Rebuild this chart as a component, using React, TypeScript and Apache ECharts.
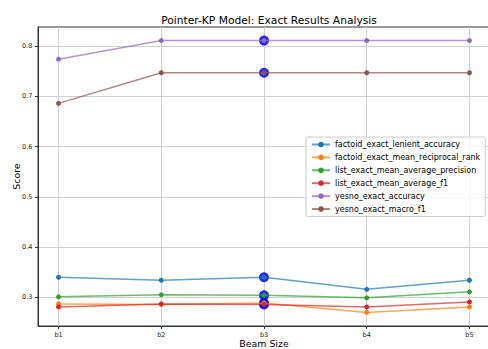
import React, { useEffect, useRef } from "react";
import * as echarts from "echarts";

const beamSizes = ["b1", "b2", "b3", "b4", "b5"];
const seriesNames = [
  "factoid_exact_lenient_accuracy",
  "factoid_exact_mean_reciprocal_rank",
  "list_exact_mean_average_precision",
  "list_exact_mean_average_f1",
  "yesno_exact_accuracy",
  "yesno_exact_macro_f1",
];
const factoidLenientAccuracy = [0.340, 0.334, 0.340, 0.316, 0.334];
const factoidMeanReciprocalRank = [0.287, 0.286, 0.289, 0.270, 0.281];
const listMeanAveragePrecision = [0.301, 0.305, 0.304, 0.299, 0.311];
const listMeanAverageF1 = [0.281, 0.287, 0.286, 0.281, 0.291];
const yesnoAccuracy = [0.774, 0.811, 0.811, 0.811, 0.811];
const yesnoMacroF1 = [0.686, 0.747, 0.747, 0.747, 0.747];
const bestBeamIndex = 2;
const yTicks = [0.3, 0.4, 0.5, 0.6, 0.7, 0.8];
const colors = ["#1f77b4", "#ff7f0e", "#2ca02c", "#d62728", "#9467bd", "#8c564b"];

const allValues = [
  factoidLenientAccuracy,
  factoidMeanReciprocalRank,
  listMeanAveragePrecision,
  listMeanAverageF1,
  yesnoAccuracy,
  yesnoMacroF1,
];

const FONT = "DejaVu Sans";

export default function App() {
  const ref = useRef<HTMLDivElement>(null);
  useEffect(() => {
    if (!ref.current) return;
    const chart = echarts.init(ref.current, undefined, { renderer: "svg" });
    const xIdx = beamSizes.map((_, i) => i);
    const lineSeries = allValues.map((vals, s) => ({
      name: seriesNames[s],
      type: "line",
      data: vals.map((v, i) => [i, v]),
      symbol: "circle",
      symbolSize: 5,
      z: 3,
      itemStyle: { color: colors[s] },
      lineStyle: { color: colors[s], width: 1.5, opacity: 0.7 },
    }));
    const highlight = {
      name: "best",
      type: "scatter",
      data: allValues.map((vals) => [bestBeamIndex, vals[bestBeamIndex]]),
      symbol: "circle",
      symbolSize: 10,
      z: 2,
      itemStyle: { color: "#0000ff", opacity: 0.85 },
    };
    chart.setOption({
      animation: false,
      backgroundColor: "#ffffff",
      textStyle: { fontFamily: FONT },
      title: {
        text: "Pointer-KP Model: Exact Results Analysis",
        left: 264,
        textAlign: "center",
        top: 10,
        textStyle: { fontFamily: FONT, fontSize: 10.7, fontWeight: "normal", color: "#000" },
      },
      grid: {
        left: 38,
        right: -2,
        top: 27,
        bottom: 23,
        outerBoundsMode: "none",
        containLabel: false,
        show: true,
        borderColor: "#333",
        borderWidth: 1,
        backgroundColor: "transparent",
      },
      legend: {
        data: seriesNames,
        orient: "vertical",
        left: 306,
        top: 137,
        padding: [3, 5, 3, 5],
        itemWidth: 18,
        itemHeight: 7,
        itemGap: 3.9,
        backgroundColor: "rgba(255,255,255,0.8)",
        borderColor: "#cccccc",
        borderWidth: 1,
        borderRadius: 2,
        textStyle: { fontFamily: FONT, fontSize: 8, color: "#000", lineHeight: 9 },
      },
      xAxis: {
        type: "value",
        min: -0.2,
        max: 4.2,
        name: "Beam Size",
        nameLocation: "middle",
        nameGap: 13,
        nameMoveOverlap: false,
        nameTextStyle: { fontFamily: FONT, fontSize: 9.4, color: "#000" },
        axisLine: { show: true, onZero: false, lineStyle: { color: "#333", width: 1 } },
        axisTick: { show: true, length: 3, lineStyle: { color: "#333" }, customValues: xIdx },
        axisLabel: {
          customValues: xIdx,
          margin: 5.6,
          fontSize: 6.5,
          fontFamily: FONT,
          color: "#222",
          formatter: (v: number) => beamSizes[Math.round(v)] ?? "",
        },
        splitLine: { show: true, lineStyle: { color: "#d0d0d0", width: 1 } },
      },
      yAxis: {
        type: "value",
        min: 0.243,
        max: 0.838,
        name: "Score",
        nameLocation: "middle",
        nameGap: 17,
        nameMoveOverlap: false,
        nameTextStyle: { fontFamily: FONT, fontSize: 9.4, color: "#000" },
        axisLine: { show: true, onZero: false, lineStyle: { color: "#333", width: 1 } },
        axisTick: { show: true, length: 3, lineStyle: { color: "#333" }, customValues: yTicks },
        axisLabel: {
          customValues: yTicks,
          margin: 5.6,
          fontSize: 6.5,
          fontFamily: FONT,
          color: "#222",
          formatter: (v: number) => v.toFixed(1),
        },
        splitLine: { show: true, lineStyle: { color: "#d0d0d0", width: 1 } },
      },
      series: [highlight, ...lineSeries],
    });
    return () => chart.dispose();
  }, []);
  return (
    <div
      ref={ref}
      style={{ position: "fixed", left: 0, top: 0, width: 488, height: 349, background: "#fff" }}
    />
  );
}
